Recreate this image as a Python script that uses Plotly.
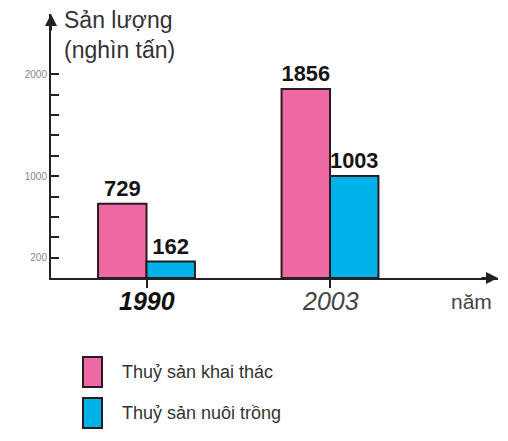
import plotly.graph_objects as go

# ---- data ----
years = ["1990", "2003"]
khai_thac = [729, 1856]
nuoi_trong = [162, 1003]
series_names = ["Thuỷ sản khai thác", "Thuỷ sản nuôi trồng"]
y_tick_vals = [200, 400, 600, 800, 1000, 1200, 1400, 1600, 1800, 2000]
y_tick_text = ["200", "", "", "", "1000", "", "", "", "", "2000"]
year_styles = ["<b><i><span style='color:#111'>{}</span></i></b>", "<i><span style='color:#444'>{}</span></i>"]

PINK = "#EF6AA5"
BLUE = "#00B2EA"
EDGE = "#2B1A20"
FONT = "Liberation Sans, Arial"

# page body has an 8px margin: work in reference pixel coords, shift by OFF
OFF = 8
W, H = 508 - OFF, 441 - OFF
AX_X, AX_Y, TOP_Y, RIGHT_X = 51, 278, 14, 498          # reference pixel coords
L, T = AX_X - OFF, TOP_Y - OFF
R = W - (RIGHT_X - OFF)
B = H - (AX_Y - OFF)
PW, PH = W - L - R, H - T - B


def px(x):
    return (x - OFF - L) / PW


def py(y):
    return (H - B - (y - OFF)) / PH


xs = list(range(len(years)))

fig = go.Figure()
for vals, name, col in [(khai_thac, series_names[0], PINK), (nuoi_trong, series_names[1], BLUE)]:
    fig.add_trace(go.Bar(
        x=xs, y=vals, name=name,
        marker=dict(color=col, line=dict(color=EDGE, width=2)),
        text=[f"<b>{v}</b>" for v in vals], textposition="outside",
        textfont=dict(size=22, color="#151515", family=FONT),
        cliponaxis=False, showlegend=False,
    ))

x_left = (AX_X - 146.5) / 183.5
x_right = (RIGHT_X - 146.5) / 183.5
y_top = PH / 0.1018

fig.update_layout(
    width=W, height=H,
    margin=dict(l=L, r=R, t=T, b=B, pad=0),
    paper_bgcolor="white", plot_bgcolor="white",
    barmode="group", bargap=0.472, bargroupgap=0,
    font=dict(family=FONT, color="#333"),
    xaxis=dict(
        range=[x_left, x_right], tickvals=xs, ticktext=["" for _ in years],
        ticks="outside", ticklen=8, tickwidth=1.5, tickcolor="#222",
        showline=True, linecolor="#222", linewidth=2,
        showgrid=False, zeroline=False,
    ),
    yaxis=dict(
        range=[0, y_top], tickvals=y_tick_vals, ticktext=y_tick_text,
        ticks="inside", ticklen=8, tickwidth=1.5, tickcolor="#222",
        showline=True, linecolor="#222", linewidth=2,
        showgrid=False, zeroline=False,
        tickfont=dict(size=10, color="#888"),
    ),
)

annotations = [
    dict(xref="paper", yref="paper", x=0, y=1, ax=0, ay=18, text="",
         showarrow=True, arrowhead=2, arrowsize=1.2, arrowwidth=2, arrowcolor="#222"),
    dict(xref="paper", yref="paper", x=1, y=0, ax=-18, ay=0, text="",
         showarrow=True, arrowhead=2, arrowsize=1.2, arrowwidth=2, arrowcolor="#222"),
    dict(xref="paper", yref="paper", x=px(62), y=py(20), text="Sản lượng",
         showarrow=False, xanchor="left", yanchor="middle",
         font=dict(size=23, color="#333")),
    dict(xref="paper", yref="paper", x=px(62), y=py(50), text="(nghìn tấn)",
         showarrow=False, xanchor="left", yanchor="middle",
         font=dict(size=23, color="#333")),
    dict(xref="paper", yref="paper", x=px(471), y=py(301), text="năm",
         showarrow=False, xanchor="center", yanchor="middle",
         font=dict(size=21, color="#444")),
    dict(xref="paper", yref="paper", x=px(120), y=py(372), text=series_names[0],
         showarrow=False, xanchor="left", yanchor="middle",
         font=dict(size=18, color="#333")),
    dict(xref="paper", yref="paper", x=px(120), y=py(413), text=series_names[1],
         showarrow=False, xanchor="left", yanchor="middle",
         font=dict(size=18, color="#333")),
]
for xv, yr, st in zip(xs, years, year_styles):
    annotations.append(dict(xref="x", yref="paper", x=xv, y=py(301), text=st.format(yr),
                            showarrow=False, xanchor="center", yanchor="middle",
                            font=dict(size=25)))
fig.update_layout(annotations=annotations)

shapes = [
    dict(type="rect", xref="paper", yref="paper", x0=px(83), x1=px(102), y0=py(357), y1=py(387),
         fillcolor=PINK, line=dict(color=EDGE, width=2)),
    dict(type="rect", xref="paper", yref="paper", x0=px(83), x1=px(102), y0=py(398), y1=py(428),
         fillcolor=BLUE, line=dict(color=EDGE, width=2)),
]
fig.update_layout(shapes=shapes)

fig.write_html("out.html")
